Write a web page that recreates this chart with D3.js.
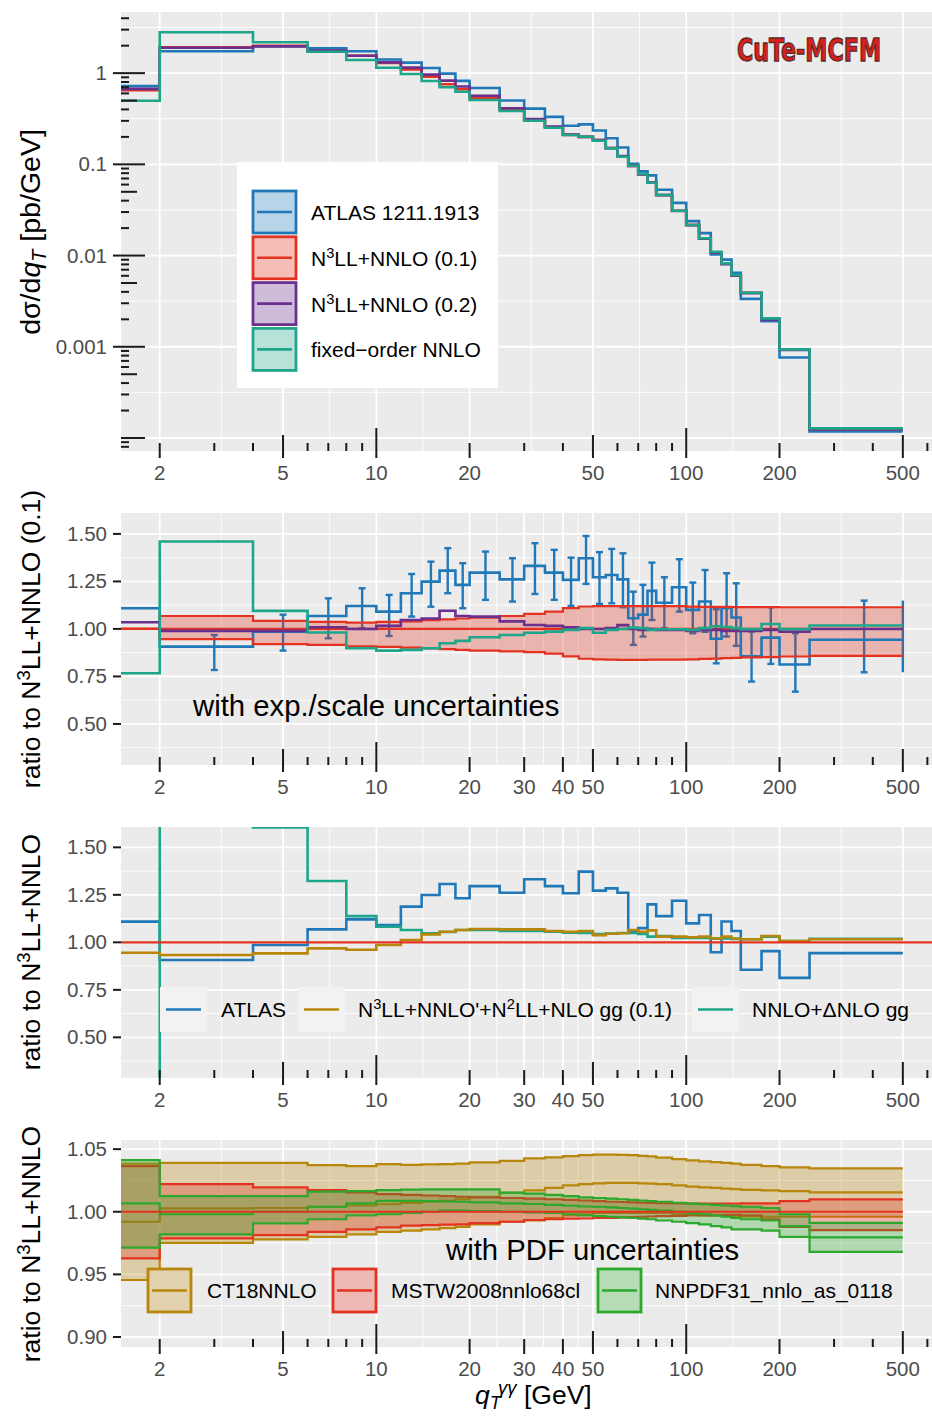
<!DOCTYPE html>
<html>
<head>
<meta charset="utf-8">
<title>diphoton qT - CuTe-MCFM</title>
<style>
body { margin: 0; background: #fff; }
svg { display: block; font-family: 'Liberation Sans', Arial, sans-serif; }
.panel-bg { fill: #ebebeb; }
.grid-major { stroke: #fff; stroke-width: 1.8; }
.grid-minor { stroke: #fff; stroke-width: 0.9; }
.tick { stroke: #1a1a1a; stroke-width: 2; }
.tick-label { fill: #4d4d4d; font-size: 20.5px; }
.axis-title { fill: #000; font-size: 26.5px; }
.legend-text { fill: #000; font-size: 21px; }
.note { fill: #000; font-size: 29.3px; }
</style>
</head>
<body>
<svg width="932" height="1418"></svg>
<script src="https://cdn.jsdelivr.net/npm/d3@7"></script>
<script>
// bin edges in q_T [GeV]; the first bin (0-2) starts left of the plotted range
var qtEdges = [1, 2, 4, 6, 8, 10, 12, 14, 16, 18, 20, 25, 30, 35, 40, 45, 50, 55, 60, 65, 70, 75, 80, 90, 100, 110, 120, 130, 140, 150, 175, 200, 250, 500];

// N3LL+NNLO (0.1) central prediction, pb/GeV
var sigmaN3LL = [0.650, 1.919, 1.99, 1.75, 1.55, 1.293, 1.098, 0.912, 0.756, 0.667, 0.530, 0.397, 0.3067, 0.2556, 0.2107, 0.2001, 0.185, 0.1505, 0.1212, 0.0959, 0.078, 0.0631, 0.0462, 0.031, 0.0217, 0.01539, 0.01086, 0.00813, 0.00609, 0.00391, 0.001996, 0.000937, 0.0001252];

// ratios to N3LL+NNLO (0.1)
var ratioATLAS = [1.109, 0.907, 0.986, 1.068, 1.121, 1.091, 1.188, 1.249, 1.307, 1.232, 1.296, 1.261, 1.332, 1.296, 1.258, 1.372, 1.272, 1.284, 1.261, 1.056, 1.075, 1.20, 1.138, 1.219, 1.10, 1.144, 0.948, 1.11, 1.06, 0.856, 0.954, 0.813, 0.943];
var atlasErrLo = [1.0, 0.784, 0.886, 0.951, 1.004, 0.963, 1.065, 1.117, 1.188, 1.109, 1.153, 1.144, 1.184, 1.153, 1.121, 1.237, 1.132, 1.135, 1.114, 0.916, 0.96, 1.047, 1.004, 1.091, 0.977, 0.985, 0.819, 0.96, 0.911, 0.723, 0.816, 0.67, 0.772];
var atlasErrHi = [1.2, 0.968, 1.075, 1.161, 1.214, 1.179, 1.289, 1.354, 1.425, 1.346, 1.407, 1.372, 1.451, 1.416, 1.375, 1.489, 1.404, 1.421, 1.398, 1.196, 1.232, 1.349, 1.272, 1.367, 1.244, 1.31, 1.104, 1.293, 1.24, 0.986, 1.114, 0.977, 1.149];
var ratioN3LL02 = [1.035, 0.99, 0.99, 1.009, 1.0, 1.016, 1.047, 1.055, 1.096, 1.068, 1.065, 1.04, 1.021, 1.016, 1.009, 1.0, 1.0, 1.005, 1.02, 1.0, 0.995, 1.0, 0.995, 0.995, 0.99, 0.995, 0.995, 0.99, 0.99, 0.99, 0.995, 0.986, 1.0];
var ratioNNLO = [0.767, 1.46, 1.095, 0.981, 0.898, 0.886, 0.89, 0.898, 0.925, 0.937, 0.956, 0.968, 0.98, 0.986, 0.995, 1.004, 0.98, 0.995, 1.0, 1.007, 1.004, 0.995, 0.998, 0.998, 0.995, 1.004, 1.014, 1.01, 1.004, 0.999, 1.026, 0.999, 1.018];
var scaleLo = [1, 0.946, 0.92, 0.916, 0.908, 0.906, 0.902, 0.898, 0.894, 0.89, 0.886, 0.882, 0.878, 0.87, 0.856, 0.843, 0.84, 0.838, 0.837, 0.837, 0.837, 0.838, 0.838, 0.839, 0.84, 0.842, 0.844, 0.846, 0.848, 0.85, 0.852, 0.855, 0.858];
var scaleHi = [1, 1.068, 1.042, 1.037, 1.033, 1.037, 1.04, 1.046, 1.05, 1.055, 1.06, 1.068, 1.079, 1.091, 1.109, 1.118, 1.12, 1.12, 1.12, 1.12, 1.12, 1.12, 1.12, 1.12, 1.117, 1.116, 1.116, 1.116, 1.115, 1.115, 1.115, 1.114, 1.114];

// gg channel comparison
var ratioGG = [0.945, 0.933, 0.942, 0.968, 0.961, 0.986, 1.012, 1.042, 1.056, 1.065, 1.07, 1.068, 1.068, 1.06, 1.056, 1.06, 1.038, 1.045, 1.048, 1.065, 1.056, 1.063, 1.03, 1.03, 1.027, 1.03, 1.02, 1.03, 1.02, 1.016, 1.033, 1.007, 1.016];
var ratioNNLOgg = [0.2, 2.4, 1.605, 1.323, 1.138, 1.082, 1.065, 1.047, 1.054, 1.065, 1.065, 1.06, 1.06, 1.056, 1.051, 1.049, 1.044, 1.046, 1.049, 1.049, 1.044, 1.03, 1.033, 1.023, 1.023, 1.023, 1.02, 1.02, 1.018, 1.016, 1.03, 1.007, 1.019];

// PDF uncertainties
var ct18Hi = [1.0385, 1.0391, 1.0391, 1.0373, 1.0365, 1.038, 1.0375, 1.0378, 1.038, 1.0385, 1.0395, 1.0407, 1.0426, 1.0435, 1.0445, 1.0452, 1.0456, 1.0456, 1.0455, 1.0452, 1.0447, 1.0442, 1.0432, 1.042, 1.041, 1.0403, 1.0396, 1.039, 1.0384, 1.0375, 1.0365, 1.0355, 1.0347];
var ct18Mid = [0.992, 1.0027, 1.003, 1.004, 1.005, 1.006, 1.007, 1.008, 1.009, 1.010, 1.012, 1.015, 1.017, 1.019, 1.021, 1.022, 1.0227, 1.023, 1.023, 1.023, 1.0227, 1.0225, 1.022, 1.021, 1.020, 1.0195, 1.019, 1.0185, 1.018, 1.0175, 1.017, 1.0165, 1.0155];
var ct18Lo = [0.9455, 0.9752, 0.978, 0.98, 0.982, 0.984, 0.985, 0.986, 0.987, 0.988, 0.99, 0.992, 0.993, 0.995, 0.997, 0.998, 0.999, 0.999, 0.999, 0.999, 0.999, 0.999, 0.999, 0.998, 0.998, 0.997, 0.997, 0.997, 0.996, 0.996, 0.996, 0.996, 0.996];
var mstwHi = [1.0365, 1.0221, 1.0195, 1.0173, 1.0155, 1.014, 1.0135, 1.013, 1.0125, 1.012, 1.0115, 1.011, 1.0105, 1.01, 1.0095, 1.009, 1.0085, 1.008, 1.0078, 1.0075, 1.0072, 1.007, 1.0068, 1.0066, 1.0066, 1.0066, 1.0066, 1.0066, 1.0066, 1.0067, 1.0067, 1.0085, 1.0099];
var mstwMid = [1, 1, 1, 1, 1, 1, 1, 1, 1, 1, 1, 1, 1, 1, 1, 1, 1, 1, 1, 1, 1, 1, 1, 1, 1, 1, 1, 1, 1, 1, 1, 1, 1];
var mstwLo = [0.9628, 0.9787, 0.9814, 0.984, 0.986, 0.9875, 0.989, 0.9894, 0.9898, 0.99, 0.991, 0.992, 0.9934, 0.994, 0.9945, 0.9946, 0.995, 0.995, 0.9955, 0.9958, 0.996, 0.9962, 0.9965, 0.9967, 0.997, 0.997, 0.9972, 0.9974, 0.9975, 0.997, 0.994, 0.988, 0.9854];
var nnpdfHi = [1.0413, 1.0125, 1.0125, 1.016, 1.0165, 1.0173, 1.0176, 1.0179, 1.0179, 1.0179, 1.0179, 1.0152, 1.0144, 1.0135, 1.0125, 1.0115, 1.011, 1.0105, 1.01, 1.0095, 1.009, 1.0085, 1.008, 1.0072, 1.0065, 1.006, 1.0055, 1.005, 1.0045, 1.004, 1.003, 0.998, 0.9912];
var nnpdfMid = [1.0067, 0.998, 1.0, 1.004, 1.0067, 1.0087, 1.0087, 1.0085, 1.0082, 1.008, 1.0075, 1.0067, 1.0062, 1.0055, 1.0048, 1.0042, 1.004, 1.0035, 1.003, 1.0025, 1.002, 1.0015, 1.001, 1.0, 0.9987, 0.998, 0.997, 0.996, 0.995, 0.994, 0.993, 0.9886, 0.9796];
var nnpdfLo = [0.9713, 0.982, 0.9907, 0.994, 0.997, 0.998, 0.999, 1.0, 1.001, 1.001, 1.0005, 1.0, 0.9995, 0.999, 0.998, 0.997, 0.9965, 0.996, 0.9955, 0.995, 0.9945, 0.994, 0.993, 0.992, 0.991, 0.99, 0.9885, 0.9875, 0.986, 0.986, 0.985, 0.98, 0.968];

// axis breaks and labels
var xBreaksTop = [2, 5, 10, 20, 50, 100, 200, 500];
var xBreaksRatio = [2, 5, 10, 20, 30, 40, 50, 100, 200, 500];
var yBreaksXsec = [1, 0.1, 0.01, 0.001];
var yLabelsXsec = ["1", "0.1", "0.01", "0.001"];
var yBreaksRatio = [0.5, 0.75, 1, 1.25, 1.5];
var yLabelsRatio = ["0.50", "0.75", "1.00", "1.25", "1.50"];
var yBreaksPdf = [0.9, 0.95, 1, 1.05];
var yLabelsPdf = ["0.90", "0.95", "1.00", "1.05"];

var cBlue = "#2178b8", cRed = "#e33320", cPurple = "#6b2f8e", cTeal = "#1ea68a",
    cGold = "#b8860b", cGreen = "#2ca82c";

var svg = d3.select("svg");
var defs = svg.append("defs");
var X0 = 121, X1 = 932;
var x = d3.scaleLog().domain([1.5, 621]).range([X0, X1]);

function stepData(vals) {
  var pts = vals.map(function(v, i) { return [qtEdges[i], v]; });
  pts.push([qtEdges[vals.length], vals[vals.length - 1]]);
  return pts;
}
function bandData(lo, hi) {
  var pts = lo.map(function(v, i) { return [qtEdges[i], v, hi[i]]; });
  pts.push([qtEdges[lo.length], lo[lo.length - 1], hi[hi.length - 1]]);
  return pts;
}
function stepPath(g, y, vals, color, w) {
  g.append("path")
    .attr("d", d3.line().x(function(d) { return x(d[0]); }).y(function(d) { return y(d[1]); }).curve(d3.curveStepAfter)(stepData(vals)))
    .attr("fill", "none").attr("stroke", color).attr("stroke-width", w || 2.6);
}
function bandPath(g, y, lo, hi, color, op) {
  g.append("path")
    .attr("d", d3.area().x(function(d) { return x(d[0]); }).y0(function(d) { return y(d[1]); }).y1(function(d) { return y(d[2]); }).curve(d3.curveStepAfter)(bandData(lo, hi)))
    .attr("fill", color).attr("fill-opacity", op || 0.3).attr("stroke", "none");
}

// text with super/subscripts
function rich(t, parts, fs) {
  var shift = 0;
  parts.forEach(function(p) {
    var target = p.sup ? -0.38 * fs : p.sub ? 0.2 * fs : 0;
    var ts = t.append("tspan").text(p.t).attr("dy", target - shift);
    if (p.sup || p.sub) ts.attr("font-size", fs * 0.7);
    if (p.it) ts.attr("font-style", "italic");
    if (p.dx) ts.attr("dx", p.dx);
    shift = target;
  });
}
var n3ll = function(rest) { return [{t: "N"}, {t: "3", sup: true}, {t: rest}]; };

function makePanel(id, top, bottom, y, xBreaks, yMajor, yMinor) {
  defs.append("clipPath").attr("id", id).append("rect")
    .attr("x", X0).attr("y", top).attr("width", X1 - X0).attr("height", bottom - top);
  var g = svg.append("g");
  g.append("rect").attr("class", "panel-bg")
    .attr("x", X0).attr("y", top).attr("width", X1 - X0).attr("height", bottom - top);
  var xMinor = d3.pairs(xBreaks).map(function(p) { return Math.sqrt(p[0] * p[1]); });
  g.selectAll(".hmin").data(yMinor).enter().append("line").attr("class", "grid-minor")
    .attr("x1", X0).attr("x2", X1).attr("y1", y).attr("y2", y);
  g.selectAll(".vmin").data(xMinor).enter().append("line").attr("class", "grid-minor")
    .attr("x1", x).attr("x2", x).attr("y1", top).attr("y2", bottom);
  g.selectAll(".hmaj").data(yMajor).enter().append("line").attr("class", "grid-major")
    .attr("x1", X0).attr("x2", X1).attr("y1", y).attr("y2", y);
  g.selectAll(".vmaj").data(xBreaks).enter().append("line").attr("class", "grid-major")
    .attr("x1", x).attr("x2", x).attr("y1", top).attr("y2", bottom);
  return svg.append("g").attr("clip-path", "url(#" + id + ")");
}

function xAxis(bottom, xBreaks) {
  var g = svg.append("g");
  var logTicks = [];
  [1, 10, 100].forEach(function(p) {
    for (var m = 1; m <= 9; m++) {
      var v = m * p;
      if (v >= 1.5 && v <= 621) logTicks.push({v: v, len: m === 1 ? 23 : m === 5 ? 16 : 8});
    }
  });
  g.selectAll(".lt").data(logTicks).enter().append("line").attr("class", "tick")
    .attr("x1", function(d) { return x(d.v); }).attr("x2", function(d) { return x(d.v); })
    .attr("y1", bottom).attr("y2", function(d) { return bottom - d.len; });
  g.selectAll(".at").data(xBreaks).enter().append("line").attr("class", "tick")
    .attr("x1", x).attr("x2", x).attr("y1", bottom).attr("y2", bottom + 7);
  g.selectAll(".al").data(xBreaks).enter().append("text").attr("class", "tick-label")
    .attr("x", x).attr("y", bottom + 29).attr("text-anchor", "middle").text(function(d) { return d; });
}
function yAxis(y, breaks, labels) {
  var g = svg.append("g");
  g.selectAll(".yt").data(breaks).enter().append("line").attr("class", "tick")
    .attr("x1", X0 - 8).attr("x2", X0).attr("y1", y).attr("y2", y);
  g.selectAll(".yl").data(breaks).enter().append("text").attr("class", "tick-label")
    .attr("x", 107).attr("y", function(d) { return y(d) + 7; }).attr("text-anchor", "end")
    .text(function(d, i) { return labels[i]; });
}
function yTitle(cy, parts, fs) {
  var t = svg.append("text").attr("class", "axis-title").style("font-size", (fs || 26.5) + "px")
    .attr("transform", "translate(40," + cy + ") rotate(-90)").attr("text-anchor", "middle");
  rich(t, parts, fs || 26.5);
}

// ---------- panel 1: cross section ----------
var y1 = d3.scaleLog().domain([7.2e-5, 4.68]).range([451, 12]);
var decades = [1e-4, 1e-3, 1e-2, 0.1, 1];
var p1 = makePanel("c1", 12, 451, y1, xBreaksTop, decades, decades.map(function(d) { return d * Math.sqrt(10); }).concat([1e-4 / Math.sqrt(10)]));

var atlasXsec = sigmaN3LL.map(function(s, i) { return s * ratioATLAS[i]; });
var n3ll02Xsec = sigmaN3LL.map(function(s, i) { return s * ratioN3LL02[i]; });
var nnloXsec = sigmaN3LL.map(function(s, i) { return s * ratioNNLO[i]; });
stepPath(p1, y1, atlasXsec, cBlue);
stepPath(p1, y1, sigmaN3LL, cRed);
stepPath(p1, y1, n3ll02Xsec, cPurple);
stepPath(p1, y1, nnloXsec, cTeal);

// log ticks on the left
var ylog = [];
for (var k = -5; k <= 0; k++) {
  for (var m = 1; m <= 9; m++) {
    var v = m * Math.pow(10, k);
    if (v >= 7.2e-5 && v <= 4.68) ylog.push({v: v, len: m === 1 ? 24 : m === 5 ? 16 : 8});
  }
}
svg.append("g").selectAll("line").data(ylog).enter().append("line").attr("class", "tick")
  .attr("x1", X0).attr("x2", function(d) { return X0 + d.len; })
  .attr("y1", function(d) { return y1(d.v); }).attr("y2", function(d) { return y1(d.v); });
yAxis(y1, yBreaksXsec, yLabelsXsec);
xAxis(451, xBreaksTop);
yTitle(232, [{t: "d\u03c3/d"}, {t: "q", it: true}, {t: "T", sub: true, it: true}, {t: " [pb/GeV]"}], 28.5);

// legend
var leg = svg.append("g");
leg.append("rect").attr("x", 237).attr("y", 162).attr("width", 261).attr("height", 226).attr("fill", "#fff");
var legItems = [
  {c: cBlue, parts: [{t: "ATLAS 1211.1913"}]},
  {c: cRed, parts: n3ll("LL+NNLO (0.1)")},
  {c: cPurple, parts: n3ll("LL+NNLO (0.2)")},
  {c: cTeal, parts: [{t: "fixed\u2212order NNLO"}]}
];
legItems.forEach(function(it, i) {
  var ky = 191 + i * 45.8;
  leg.append("rect").attr("x", 253).attr("y", ky).attr("width", 43).attr("height", 42)
    .attr("fill", it.c).attr("fill-opacity", 0.32).attr("stroke", it.c).attr("stroke-width", 2.8);
  leg.append("line").attr("x1", 257).attr("x2", 292).attr("y1", ky + 21).attr("y2", ky + 21)
    .attr("stroke", it.c).attr("stroke-width", 2.6);
  var t = leg.append("text").attr("class", "legend-text").attr("x", 311).attr("y", ky + 29);
  rich(t, it.parts, 21);
});

// logo
svg.append("text").attr("x", 737).attr("y", 61).attr("textLength", 144).attr("lengthAdjust", "spacingAndGlyphs")
  .attr("font-family", "'Liberation Sans Narrow', 'DejaVu Sans Condensed', sans-serif")
  .attr("font-weight", "bold").attr("font-size", 32)
  .attr("fill", "#d8201c").attr("stroke", "#5a2a2a").attr("stroke-width", 1.3)
  .text("CuTe-MCFM");

// ---------- panel 2: ratio with exp./scale uncertainties ----------
var ratioMinor = [0.375, 0.625, 0.875, 1.125, 1.375];
var y2 = d3.scaleLinear().domain([0.284, 1.61]).range([765, 513]);
var p2 = makePanel("c2", 513, 765, y2, xBreaksRatio, yBreaksRatio, ratioMinor);

function errorBars(g, y) {
  // first bin (0-2 GeV) is centred at 1 GeV, left of the plotted range
  var bars = ratioATLAS.map(function(v, i) {
    return {x: i === 0 ? 1 : (qtEdges[i] + qtEdges[i + 1]) / 2, lo: atlasErrLo[i], hi: atlasErrHi[i], cap: true};
  }).filter(function(b) { return b.x >= 1.5; });
  var last = ratioATLAS.length - 1;
  bars.push({x: qtEdges[last + 1], lo: atlasErrLo[last], hi: atlasErrHi[last], cap: false});
  bars.forEach(function(b) {
    var cx = x(b.x);
    g.append("line").attr("x1", cx).attr("x2", cx).attr("y1", y(b.lo)).attr("y2", y(b.hi))
      .attr("stroke", cBlue).attr("stroke-width", 2.4);
    if (b.cap) {
      [b.lo, b.hi].forEach(function(v) {
        g.append("line").attr("x1", cx - 3.5).attr("x2", cx + 3.5).attr("y1", y(v)).attr("y2", y(v))
          .attr("stroke", cBlue).attr("stroke-width", 2.4);
      });
    }
  });
}
errorBars(p2, y2);
bandPath(p2, y2, scaleLo, scaleHi, cRed, 0.3);
stepPath(p2, y2, ratioATLAS, cBlue);
stepPath(p2, y2, scaleLo, cRed, 2.2);
stepPath(p2, y2, scaleHi, cRed, 2.2);
stepPath(p2, y2, mstwMid, cRed, 2.2);
stepPath(p2, y2, ratioN3LL02, cPurple);
stepPath(p2, y2, ratioNNLO, cTeal);
svg.append("text").attr("class", "note").attr("x", 193).attr("y", 716).text("with exp./scale uncertainties");
yAxis(y2, yBreaksRatio, yLabelsRatio);
xAxis(765, xBreaksRatio);
yTitle(639, [{t: "ratio to N"}, {t: "3", sup: true}, {t: "LL+NNLO (0.1)"}]);

// ---------- panel 3: gg channel ----------
var y3 = d3.scaleLinear().domain([0.286, 1.607]).range([1078, 827]);
var p3 = makePanel("c3", 827, 1078, y3, xBreaksRatio, yBreaksRatio, ratioMinor);
stepPath(p3, y3, ratioATLAS, cBlue);
stepPath(p3, y3, ratioNNLOgg, cTeal);
stepPath(p3, y3, ratioGG, cGold);
p3.append("line").attr("x1", X0).attr("x2", X1).attr("y1", y3(1)).attr("y2", y3(1))
  .attr("stroke", cRed).attr("stroke-width", 2.4);
var leg3 = svg.append("g");
[
  {c: cBlue, kx: 160, tx: 221, parts: [{t: "ATLAS"}]},
  {c: cGold, kx: 298, tx: 358, parts: [{t: "N"}, {t: "3", sup: true}, {t: "LL+NNLO'+N"}, {t: "2", sup: true}, {t: "LL+NLO gg (0.1)"}]},
  {c: cTeal, kx: 692, tx: 752, parts: [{t: "NNLO+\u0394NLO gg"}]}
].forEach(function(it) {
  leg3.append("rect").attr("x", it.kx).attr("y", 987).attr("width", 47).attr("height", 45).attr("fill", "#f2f2f2");
  leg3.append("line").attr("x1", it.kx + 6).attr("x2", it.kx + 41).attr("y1", 1009.5).attr("y2", 1009.5)
    .attr("stroke", it.c).attr("stroke-width", 2.6);
  var t = leg3.append("text").attr("class", "legend-text").attr("x", it.tx).attr("y", 1017);
  rich(t, it.parts, 21);
});
yAxis(y3, yBreaksRatio, yLabelsRatio);
xAxis(1078, xBreaksRatio);
yTitle(952, [{t: "ratio to N"}, {t: "3", sup: true}, {t: "LL+NNLO"}]);

// ---------- panel 4: PDF uncertainties ----------
var y4 = d3.scaleLinear().domain([0.892, 1.0573]).range([1347, 1140]);
var p4 = makePanel("c4", 1140, 1347, y4, xBreaksRatio, yBreaksPdf, [0.925, 0.975, 1.025]);
var pdfSets = [
  {c: cGold, lo: ct18Lo, mid: ct18Mid, hi: ct18Hi, name: "CT18NNLO", kx: 148, tx: 207},
  {c: cRed, lo: mstwLo, mid: null, hi: mstwHi, name: "MSTW2008nnlo68cl", kx: 333, tx: 391},
  {c: cGreen, lo: nnpdfLo, mid: nnpdfMid, hi: nnpdfHi, name: "NNPDF31_nnlo_as_0118", kx: 598, tx: 655}
];
pdfSets.forEach(function(s) {
  bandPath(p4, y4, s.lo, s.hi, s.c, 0.3);
  stepPath(p4, y4, s.lo, s.c, 2.2);
  stepPath(p4, y4, s.hi, s.c, 2.2);
  if (s.mid) stepPath(p4, y4, s.mid, s.c, 2.2);
});
stepPath(p4, y4, mstwMid, cRed, 2.2);
svg.append("text").attr("class", "note").attr("x", 446).attr("y", 1260).text("with PDF uncertainties");
var leg4 = svg.append("g");
pdfSets.forEach(function(s) {
  leg4.append("rect").attr("x", s.kx).attr("y", 1269).attr("width", 43).attr("height", 43)
    .attr("fill", "#f2f2f2");
  leg4.append("rect").attr("x", s.kx).attr("y", 1269).attr("width", 43).attr("height", 43)
    .attr("fill", s.c).attr("fill-opacity", 0.3).attr("stroke", s.c).attr("stroke-width", 2.8);
  leg4.append("line").attr("x1", s.kx + 4).attr("x2", s.kx + 39).attr("y1", 1290.5).attr("y2", 1290.5)
    .attr("stroke", s.c).attr("stroke-width", 2.6);
  leg4.append("text").attr("class", "legend-text").attr("x", s.tx).attr("y", 1298).text(s.name);
});
yAxis(y4, yBreaksPdf, yLabelsPdf);
xAxis(1347, xBreaksRatio);
yTitle(1244, [{t: "ratio to N"}, {t: "3", sup: true}, {t: "LL+NNLO"}]);

// x axis title
var xt = svg.append("text").attr("class", "axis-title").attr("x", 475).attr("y", 1404);
rich(xt, [{t: "q", it: true}, {t: "T", sub: true, it: true}, {t: "\u03b3\u03b3", sup: true, it: true, dx: -3}, {t: " [GeV]"}], 26.5);
</script>
</body>
</html>
